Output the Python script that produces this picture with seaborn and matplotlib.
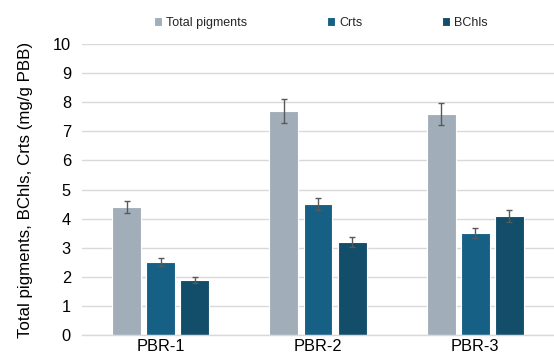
import matplotlib
matplotlib.use("Agg")
import matplotlib.pyplot as plt
import seaborn as sns
import pandas as pd

# Pigment content per photobioreactor (mg/g PBB)
reactors = ["PBR-1", "PBR-2", "PBR-3"]
series = ["Total pigments", "Crts", "BChls"]
total_pigments = [4.4, 7.7, 7.6]
crts = [2.5, 4.5, 3.5]
bchls = [1.9, 3.2, 4.1]
total_err = [0.22, 0.40, 0.38]
crts_err = [0.14, 0.22, 0.18]
bchls_err = [0.10, 0.16, 0.20]

colors = ["#A1AEB9", "#176085", "#124D69"]

df = pd.DataFrame({
    "reactor": reactors * 3,
    "series": [s for s in series for _ in reactors],
    "value": total_pigments + crts + bchls,
    "err": total_err + crts_err + bchls_err,
})

sns.set_theme(style="white")
plt.rcParams["font.family"] = ["Liberation Sans", "DejaVu Sans"]

fig = plt.figure(figsize=(5.54, 3.58), dpi=100)
ax = fig.add_axes([82 / 554, 23 / 358, 472 / 554, 291 / 358])

sns.barplot(data=df, x="reactor", y="value", hue="series", order=reactors,
            hue_order=series, palette=colors, width=0.65, gap=0.15,
            errorbar=None, edgecolor="white", linewidth=0.8, ax=ax,
            legend=True, saturation=1)

# Error bars placed at the centre of each drawn bar
for i, s in enumerate(series):
    cont = ax.containers[i]
    sub = df[df["series"] == s].set_index("reactor").loc[reactors]
    xs = [p.get_x() + p.get_width() / 2 for p in cont.patches]
    ax.errorbar(xs, sub["value"].values, yerr=sub["err"].values, fmt="none",
                ecolor="#595959", elinewidth=1.0, capsize=2.2, capthick=1.0,
                zorder=5)

ax.set_ylim(0, 10)
ax.set_yticks(range(0, 11))
ax.set_xlim(-0.5, 2.5)
ax.yaxis.grid(True, color="#D9D9D9", linewidth=1.0)
ax.set_axisbelow(True)
for side in ["top", "right", "left"]:
    ax.spines[side].set_visible(False)
ax.spines["bottom"].set_color("#D9D9D9")
ax.spines["bottom"].set_linewidth(1.0)
ax.tick_params(axis="both", length=0, labelsize=11.8, colors="#000000", pad=8)
ax.tick_params(axis="x", pad=3)
ax.set_xlabel("")
ax.set_ylabel("Total pigments, BChls, Crts (mg/g PBB)", fontsize=12.2,
              color="#000000", labelpad=14)

handles, labels = ax.get_legend_handles_labels()
ax.get_legend().remove()
fig.legend(handles, labels, loc="center", bbox_to_anchor=(321 / 554, 0.936),
           ncol=3, frameon=False, fontsize=9, handlelength=0.65,
           handleheight=0.65, handletextpad=0.3, columnspacing=6.4)

fig.savefig("out.png", dpi=100)
